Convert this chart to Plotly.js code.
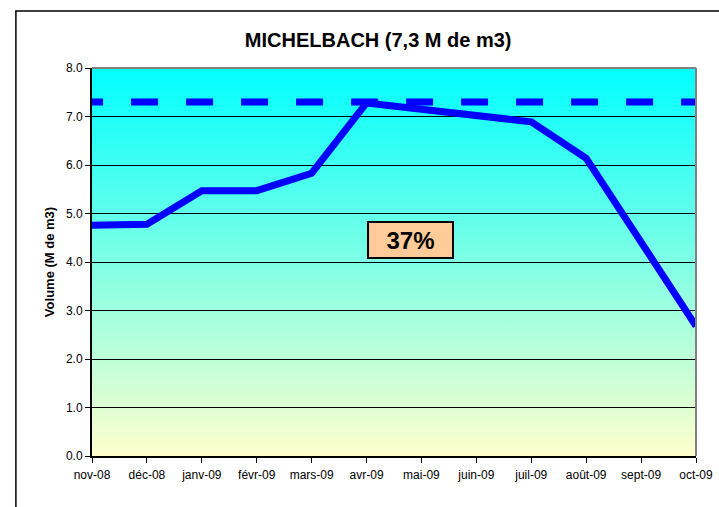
<!DOCTYPE html>
<html>
<head>
<meta charset="utf-8">
<script src="https://cdn.plot.ly/plotly-3.0.1.min.js"></script>
<style>
html,body{margin:0;padding:0;background:#fff;overflow:hidden;}
#chart{width:719px;height:507px;}
</style>
</head>
<body>
<div id="chart"></div>
<script>
// ---- data ----
const months = ["nov-08","déc-08","janv-09","févr-09","mars-09","avr-09","mai-09","juin-09","juil-09","août-09","sept-09","oct-09"];
const volumes = [4.76, 4.78, 5.47, 5.47, 5.83, 7.28, 7.15, 7.02, 6.89, 6.14, 4.42, 2.68];
const capacity = 7.3;
const yTickVals = [0,1,2,3,4,5,6,7,8];
const chartTitle = "MICHELBACH (7,3 M de m3)";
const yTitle = "Volume (M de m3)";

const pct = Math.round(volumes[volumes.length-1] / capacity * 100) + "%";

const font = "Liberation Sans, Arial, sans-serif";

const gradSvg = "<svg xmlns='http://www.w3.org/2000/svg' width='10' height='100' preserveAspectRatio='none'>" +
  "<defs><linearGradient id='g' x1='0' y1='0' x2='0' y2='1'>" +
  "<stop offset='0' stop-color='#00FFFF'/><stop offset='1' stop-color='#FFFFCC'/>" +
  "</linearGradient></defs><rect width='10' height='100' fill='url(#g)'/></svg>";
const gradUri = "data:image/svg+xml;charset=utf-8," + encodeURIComponent(gradSvg);

const traces = [
  {
    x: months, y: volumes, type: "scatter", mode: "lines",
    line: {color: "#0000FF", width: 7},
    hoverinfo: "x+y", showlegend: false
  }
];

const layout = {
  width: 719, height: 507,
  margin: {l: 92, r: 23, t: 68, b: 51},
  paper_bgcolor: "#FFFFFF",
  plot_bgcolor: "rgba(0,0,0,0)",
  showlegend: false,
  font: {family: font, color: "#000", size: 12},
  title: {
    text: chartTitle,
    font: {family: font, size: 20, color: "#000", weight: "bold"},
    x: 0.526, xref: "container", xanchor: "center",
    y: 0.922, yref: "container", yanchor: "middle"
  },
  xaxis: {
    type: "category",
    range: [0, months.length - 1],
    showgrid: false, zeroline: false,
    showline: true, linecolor: "#000", linewidth: 2,
    ticks: "outside", ticklen: 5, tickcolor: "#000", tickwidth: 1,
    ticklabelstandoff: 2,
    tickfont: {family: font, size: 12, color: "#000"},
    fixedrange: true
  },
  yaxis: {
    range: [0, 8],
    tickvals: yTickVals,
    tickformat: ".1f",
    showgrid: true, gridcolor: "#000", gridwidth: 1,
    zeroline: false,
    showline: true, linecolor: "#000", linewidth: 2,
    ticks: "outside", ticklen: 5, tickcolor: "#000", tickwidth: 1,
    tickfont: {family: font, size: 12, color: "#000"},
    title: {text: yTitle, font: {family: font, size: 13, color: "#000", weight: "bold"}, standoff: 8},
    fixedrange: true
  },
  images: [{
    source: gradUri, xref: "paper", yref: "paper",
    x: 0, y: 1, sizex: 1, sizey: 1,
    xanchor: "left", yanchor: "top",
    sizing: "stretch", layer: "below"
  }],
  shapes: [
    {type: "line", xref: "x", yref: "y", x0: -0.29, x1: months.length - 1, y0: capacity, y1: capacity,
     line: {color: "#0000FF", width: 7, dash: "27px,28px"}, layer: "below"},
    {type: "line", xref: "paper", yref: "paper", x0: 0, x1: 1, y0: 1, y1: 1,
     line: {color: "#808080", width: 2}},
    {type: "line", xref: "paper", yref: "paper", x0: 1, x1: 1, y0: 0, y1: 1,
     line: {color: "#808080", width: 2}},
    {type: "rect", xref: "paper", yref: "paper", x0: -0.126, x1: 1.2, y0: -0.3, y1: 1.147,
     line: {color: "#000", width: 1.5}, fillcolor: "rgba(0,0,0,0)"}
  ],
  annotations: [{
    text: "<b>" + pct + "</b>",
    xref: "paper", yref: "paper", x: 0.527, y: 0.557,
    xanchor: "center", yanchor: "middle",
    showarrow: false,
    font: {family: font, size: 24, color: "#000"},
    bgcolor: "#FFCC99", bordercolor: "#000", borderwidth: 2,
    width: 83, height: 34, borderpad: 0
  }]
};

Plotly.newPlot("chart", traces, layout, {displayModeBar: false, staticPlot: true});
</script>
</body>
</html>
